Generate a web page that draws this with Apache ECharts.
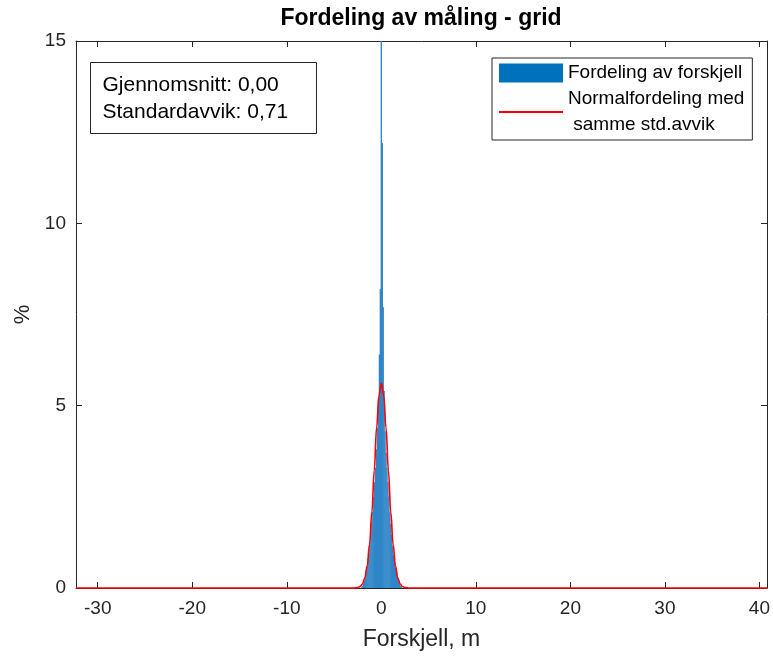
<!DOCTYPE html>
<html>
<head>
<meta charset="utf-8">
<script src="https://cdn.jsdelivr.net/npm/echarts@6/dist/echarts.min.js"></script>
<style>
  html, body { margin: 0; padding: 0; background: #fff; }
  #main { width: 773px; height: 656px; }
</style>
</head>
<body>
<div id="main"></div>
<script>
// histogram bins (centre, %), bin width 0.1 m
var histX = [-2.1, -2.0, -1.9, -1.8, -1.7, -1.6, -1.5, -1.4, -1.3, -1.2, -1.1, -1.0, -0.9, -0.8, -0.7, -0.6, -0.5, -0.4, -0.3, -0.2, -0.1,
    0.0, 0.1, 0.2, 0.3, 0.4, 0.5, 0.6, 0.7, 0.8, 0.9, 1.0, 1.1, 1.2, 1.3, 1.4, 1.5, 1.6, 1.7, 1.8, 1.9, 2.0, 2.1, 2.2];
var histY = [0.02, 0.06, 0.12, 0.2, 0.3, 0.45, 0.6, 0.8, 0.95, 1.2, 1.5, 1.8, 2.1, 2.5, 2.9, 3.3, 3.8, 4.4, 5.2, 6.4, 8.2,
    16.0, 12.2, 7.7, 5.4, 4.3, 3.7, 3.3, 2.9, 2.5, 2.1, 1.75, 1.45, 1.15, 0.9, 0.72, 0.55, 0.4, 0.3, 0.2, 0.12, 0.07, 0.03, 0.01];

// red curve (normal, same std.avvik)
var normX = [-32.3, -3.0, -2.5, -2.25, -2.0, -1.75, -1.5, -1.25, -1.0, -0.75, -0.5, -0.25, 0,
    0.25, 0.5, 0.75, 1.0, 1.25, 1.5, 1.75, 2.0, 2.25, 2.5, 3.0, 40.8];
var normY = [0, 0, 0.01, 0.04, 0.11, 0.27, 0.6, 1.19, 2.08, 3.22, 4.39, 5.28, 5.62,
    5.28, 4.39, 3.22, 2.08, 1.19, 0.6, 0.27, 0.11, 0.04, 0.01, 0, 0];

var xTicks = [-30, -20, -10, 0, 10, 20, 30, 40];
var xMin = -32.3, xMax = 40.8;

var FONT = 'Liberation Sans, Arial, Helvetica, sans-serif';
var AX = '#262626';

var chart = echarts.init(document.getElementById('main'), null, {renderer: 'canvas'});

var hist = [];
for (var i = 0; i < histX.length; i++) hist.push([histX[i], histY[i]]);
var norm = [];
for (var j = 0; j < normX.length; j++) norm.push([normX[j], normY[j]]);

var option = {
    backgroundColor: '#fff',
    animation: false,
    title: {
        text: 'Fordeling av måling - grid',
        left: 416,
        textAlign: 'center',
        top: 2,
        textStyle: {fontFamily: FONT, fontSize: 23, fontWeight: 'bold', color: '#000'}
    },
    legend: {
        orient: 'vertical',
        left: 492,
        top: 58,
        padding: [2, 8, 2, 6],
        itemGap: 0,
        itemWidth: 64,
        itemHeight: 19,
        borderColor: AX,
        borderWidth: 1,
        backgroundColor: '#fff',
        textStyle: {fontFamily: FONT, fontSize: 19, lineHeight: 26, color: '#000'},
        data: [
            {name: 'Fordeling av forskjell', icon: 'rect', itemStyle: {color: '#0072bd'}},
            {name: 'Normalfordeling med\n samme std.avvik', itemStyle: {opacity: 0}}
        ]
    },
    grid: {left: 76, top: 41, width: 692, height: 548, show: false},
    xAxis: [{
        type: 'value', min: xMin, max: xMax,
        name: 'Forskjell, m', nameLocation: 'middle', nameGap: 40,
        nameTextStyle: {fontFamily: FONT, fontSize: 23, color: AX},
        axisLine: {show: true, onZero: false, lineStyle: {color: AX, width: 1}},
        axisTick: {show: true, inside: true, length: 6, customValues: xTicks, lineStyle: {color: AX}},
        axisLabel: {show: true, customValues: xTicks, margin: 11, fontFamily: FONT, fontSize: 19, color: AX},
        splitLine: {show: false}
    }, {
        type: 'value', min: xMin, max: xMax, position: 'top',
        axisLine: {show: true, onZero: false, lineStyle: {color: AX, width: 1}},
        axisTick: {show: true, inside: true, length: 6, customValues: xTicks, lineStyle: {color: AX}},
        axisLabel: {show: false},
        splitLine: {show: false}
    }],
    yAxis: [{
        type: 'value', min: 0, max: 15, interval: 5,
        name: '%', nameLocation: 'middle', nameGap: 41,
        nameTextStyle: {fontFamily: FONT, fontSize: 22, color: AX},
        axisLine: {show: true, onZero: false, lineStyle: {color: AX, width: 1}},
        axisTick: {show: true, inside: true, length: 6, lineStyle: {color: AX}},
        axisLabel: {margin: 10, fontFamily: FONT, fontSize: 19, color: AX},
        splitLine: {show: false}
    }, {
        type: 'value', min: 0, max: 15, interval: 5, position: 'right',
        axisLine: {show: true, onZero: false, lineStyle: {color: AX, width: 1}},
        axisTick: {show: true, inside: true, length: 6, lineStyle: {color: AX}},
        axisLabel: {show: false},
        splitLine: {show: false}
    }],
    graphic: [{
        type: 'group',
        left: 90,
        top: 62,
        children: [{
            type: 'rect',
            shape: {x: 0, y: 0, width: 226, height: 71},
            style: {fill: '#fff', stroke: AX, lineWidth: 1}
        }, {
            type: 'text',
            x: 12,
            y: 9,
            style: {
                text: 'Gjennomsnitt: 0,00\nStandardavvik: 0,71',
                fontFamily: FONT, fontSize: 21, lineHeight: 27, fill: '#000'
            }
        }]
    }],
    series: [{
        name: 'Fordeling av forskjell',
        type: 'bar',
        data: hist,
        barWidth: 1.4,
        itemStyle: {color: '#2f86c8'},
        clip: true
    }, {
        name: 'Normalfordeling med\n samme std.avvik',
        type: 'line',
        data: norm,
        symbol: 'none',
        smooth: 0.4,
        smoothMonotone: 'x',
        clip: false,
        lineStyle: {color: '#ff0000', width: 1.6},
        z: 3
    }]
};

chart.setOption(option);
</script>
</body>
</html>
